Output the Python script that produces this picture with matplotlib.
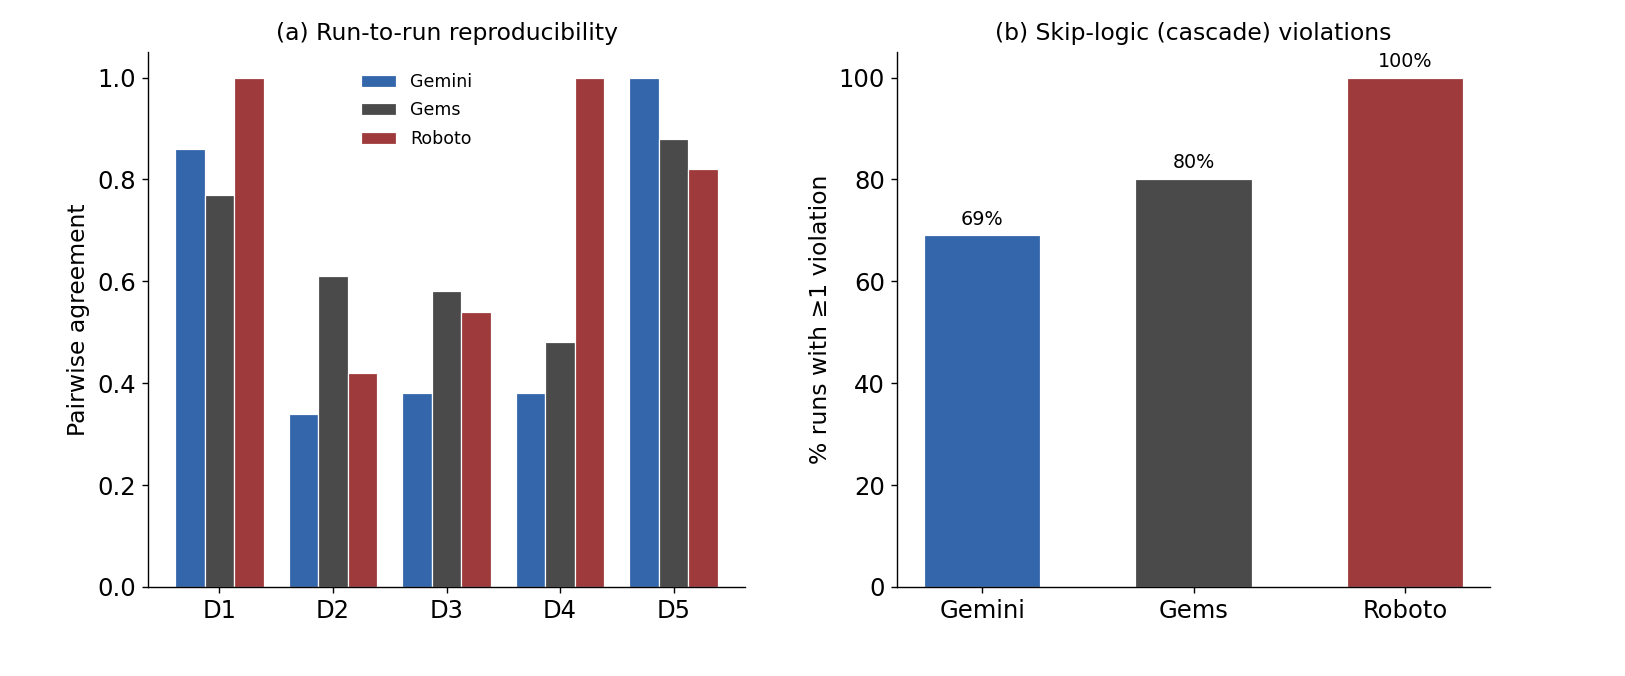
import matplotlib
matplotlib.use("Agg")
import matplotlib.pyplot as plt
import numpy as np

# datos
datasets = ["D1", "D2", "D3", "D4", "D5"]
modelos = ["Gemini", "Gems", "Roboto"]
gemini_agree = [0.86, 0.34, 0.38, 0.38, 1.00]
gems_agree = [0.77, 0.61, 0.58, 0.48, 0.88]
roboto_agree = [1.00, 0.42, 0.54, 1.00, 0.82]
violaciones = [69, 80, 100]
violaciones_txt = ["69%", "80%", "100%"]

colores = ["#3366aa", "#4a4a4a", "#9e3a3b"]

plt.rcParams['font.family'] = ['DejaVu Sans']

fig = plt.figure(figsize=(13, 5.408), dpi=125)
ax1 = fig.add_axes([0.0911, 0.1317, 0.3674, 0.7913])
ax2 = fig.add_axes([0.552, 0.1317, 0.365, 0.7913])

# (a) reproducibilidad
x = np.arange(len(datasets))
ancho = 0.26
series = [gemini_agree, gems_agree, roboto_agree]
for i, (nombre, vals) in enumerate(zip(modelos, series)):
    ax1.bar(x + (i - 1) * ancho, vals, ancho, color=colores[i], label=nombre,
            edgecolor="white", linewidth=0.7)

ax1.set_xticks(x)
ax1.set_xticklabels(datasets)
ax1.set_ylim(0, 1.05)
ax1.set_yticks([0.0, 0.2, 0.4, 0.6, 0.8, 1.0])
ax1.set_ylabel("Pairwise agreement", fontsize=13.5)
ax1.set_title("(a) Run-to-run reproducibility", fontsize=13.5, pad=7)
ax1.legend(frameon=False, loc="upper center", bbox_to_anchor=(0.45, 0.99),
           fontsize=10, labelspacing=0.6)

# (b) violaciones de skip-logic
xb = np.arange(len(modelos))
barras = ax2.bar(xb, violaciones, 0.55, color=colores, edgecolor="white", linewidth=0.7)
for b, txt in zip(barras, violaciones_txt):
    ax2.annotate(txt, (b.get_x() + b.get_width() / 2, b.get_height()),
                 xytext=(0, 4), textcoords="offset points",
                 ha="center", va="bottom", fontsize=11)
ax2.set_xticks(xb)
ax2.set_xticklabels(modelos)
ax2.set_ylim(0, 105)
ax2.set_yticks([0, 20, 40, 60, 80, 100])
ax2.set_ylabel("% runs with \u22651 violation", fontsize=13.5)
ax2.set_title("(b) Skip-logic (cascade) violations", fontsize=13.5, pad=7)

for ax in (ax1, ax2):
    ax.spines["top"].set_visible(False)
    ax.spines["right"].set_visible(False)
    ax.tick_params(labelsize=14)

fig.savefig("out.png", dpi=125)
